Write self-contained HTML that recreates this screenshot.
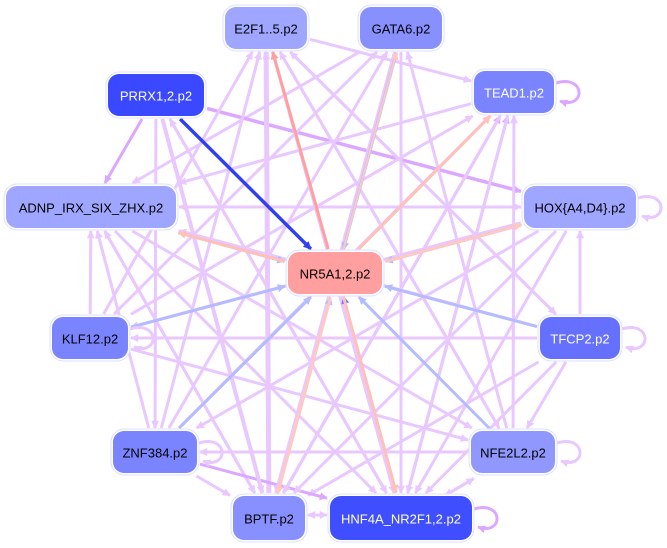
<!DOCTYPE html>
<html><head><meta charset="utf-8"><style>
html,body{margin:0;padding:0;background:#fff}
svg{display:block}
text{font-family:"Liberation Sans",sans-serif;font-size:13px;text-anchor:middle;dominant-baseline:central}
</style></head><body>
<svg id="s" width="667" height="548" viewBox="0 0 667 548" xmlns="http://www.w3.org/2000/svg">
<defs></defs>
<g id="edges"></g>
<g id="nodes"></g>
</svg>
<script>
var N={
E:[266,28,82,42,'#9ea6ff','#000','E2F1..5.p2'],
G:[401,28,82,42,'#8890ff','#000','GATA6.p2'],
P:[156,95,96,42,'#3a48ff','#fff','PRRX1,2.p2'],
T:[514,92,80,42,'#7a84ff','#fff','TEAD1.p2'],
A:[91,207,170,42,'#9ea6ff','#000','ADNP_IRX_SIX_ZHX.p2'],
H:[580,207,112,42,'#9ea6ff','#000','HOX{A4,D4}.p2'],
R:[335,273,94,42,'#ff9f9f','#000','NR5A1,2.p2'],
K:[90,338,76,42,'#7a84ff','#000','KLF12.p2'],
F:[580,338,80,42,'#6670ff','#fff','TFCP2.p2'],
Z:[155,452,84,42,'#7a84ff','#000','ZNF384.p2'],
L:[513,452,84,42,'#9098ff','#000','NFE2L2.p2'],
B:[269,518,72,44,'#8890ff','#000','BPTF.p2'],
N:[401,518,142,44,'#3f4fff','#fff','HNF4A_NR2F1,2.p2']};
var LP='#e8c8ff',MP='#dca8ff',LB='#b4bcff';
var E=[
['E','T',LP,3,0],['G','A',LP,3,0],['P','A',MP,3,0],['P','H',MP,3.5,0],['T','A',LP,3,0],
['H','A',LP,3,0],['A','H',LP,3,0],['K','E',LP,3,0],['Z','E',LP,3,0],['B','E',LP,5,0],['N','E',LP,3,0],
['E','L',LP,3,0],['E','F',LP,3,0],['G','N',LP,3,0],['L','G',LP,3,0],['F','E',LP,3,0],
['N','T',MP,3,0],['B','T',MP,3,0],['Z','T',LP,3,0],['L','T',LP,3,0],['K','T',LP,3,0],
['F','A',LP,3,0],['H','K',LP,3,0],['F','K',LP,3,0],['H','Z',LP,3,0],['F','B',LP,3,0],['F','N',LP,3,0],['H','N',LP,3,0],
['F','L',LP,3,0],['L','Z',LP,3,0],['K','L',LP,3,0],['A','L',LP,3,0],['A','N',LP,3,0],['A','B',LP,3,0],
['K','A',LP,3,0],['Z','A',LP,3,0],['B','A',LP,3,0],['Z','B',LP,3,0],['Z','N',MP,3,0],
['B','N',LP,3,-3],['N','B',LP,3,3],['L','N',LP,3,-3],['N','L',LP,3,3],['F','H',LP,3,0],['H','B',LP,3,0],
['P','B',LP,4,0],['P','N',LP,3,0],['P','Z',LP,3,0],['N','P',LP,3,0],['E','N',LP,3,0],['G','B',LP,3,0],
['T','N',LP,3,0],['T','B',LP,3,0],['L','E',LP,3,0],['Z','G',LP,3,0],['K','G',LP,3,0],
['P','R','#3040f0',3.5,0],['R','E','#ffa0a0',3,0],['G','R',LB,3,-2],['R','G','#ffc8c0',2,2],
['R','T','#ffc0b8',3,0],['H','R',LB,3,-2],['R','H','#ffc8c0',3,2],['A','R',LB,3,2],['R','A','#ffc0b8',3,-2],
['K','R',LB,3,0],['F','R',LB,3,0],['Z','R',LB,3,0],['L','R',LB,3,0],
['B','R',LB,2,2],['R','B','#ffc8c0',3,-2],['N','R','#6878ff',2,2],['R','N','#ffc0b8',3,-2]];
var s=document.getElementById('s'),defs=s.querySelector('defs'),eg=document.getElementById('edges'),ng=document.getElementById('nodes');
var ns='http://www.w3.org/2000/svg',mk={},mi=0;
function el(t,a,p){var e=document.createElementNS(ns,t);for(var k in a)e.setAttribute(k,a[k]);p.appendChild(e);return e;}
function marker(c){if(mk[c])return mk[c];var id='m'+(mi++);var m=el('marker',{id:id,viewBox:'0 0 10 10',refX:9,refY:5,markerWidth:10,markerHeight:8,orient:'auto',markerUnits:'userSpaceOnUse'},defs);el('path',{d:'M0,0L10,5L0,10z',fill:c},m);mk[c]=id;return id;}
function clip(n,dx,dy){var hw=n[2]/2+3,hh=n[3]/2+3;return Math.min(hw/Math.abs(dx||1e-9),hh/Math.abs(dy||1e-9));}
E.forEach(function(e){var a=N[e[0]],b=N[e[1]];var dx=b[0]-a[0],dy=b[1]-a[1],L=Math.hypot(dx,dy);var ox=-dy/L*e[4],oy=dx/L*e[4];
var ax=a[0]+ox,ay=a[1]+oy,bx=b[0]+ox,by=b[1]+oy;var t1=clip(a,dx,dy),t2=clip(b,dx,dy);
el('line',{x1:ax+dx*t1,y1:ay+dy*t1,x2:bx-dx*t2,y2:by-dy*t2,stroke:e[2],'stroke-width':e[3],'marker-end':'url(#'+marker(e[2])+')'},eg);});
[['T',MP],['H',LP],['K',LP],['F',LP],['Z',LP],['L',LP],['N',MP]].forEach(function(q){var n=N[q[0]];var x=n[0]+n[2]/2+2,y=n[1];
el('path',{d:'M'+x+','+(y-9)+' C'+(x+30)+','+(y-18)+' '+(x+30)+','+(y+18)+' '+(x+4)+','+(y+9),fill:'none',stroke:q[1],'stroke-width':3,'marker-end':'url(#'+marker(q[1])+')'},eg);});
for(var k in N){var n=N[k];var x=n[0]-n[2]/2,y=n[1]-n[3]/2;
el('rect',{x:x-2,y:y-2,width:n[2]+4,height:n[3]+4,rx:13,fill:'#fff',stroke:'#dde0ff','stroke-width':1},ng);
el('rect',{x:x,y:y,width:n[2],height:n[3],rx:11,fill:n[4]},ng);
var t=el('text',{x:n[0],y:n[1]+1,fill:n[5]},ng);t.textContent=n[6];}
</script>
</body></html>
